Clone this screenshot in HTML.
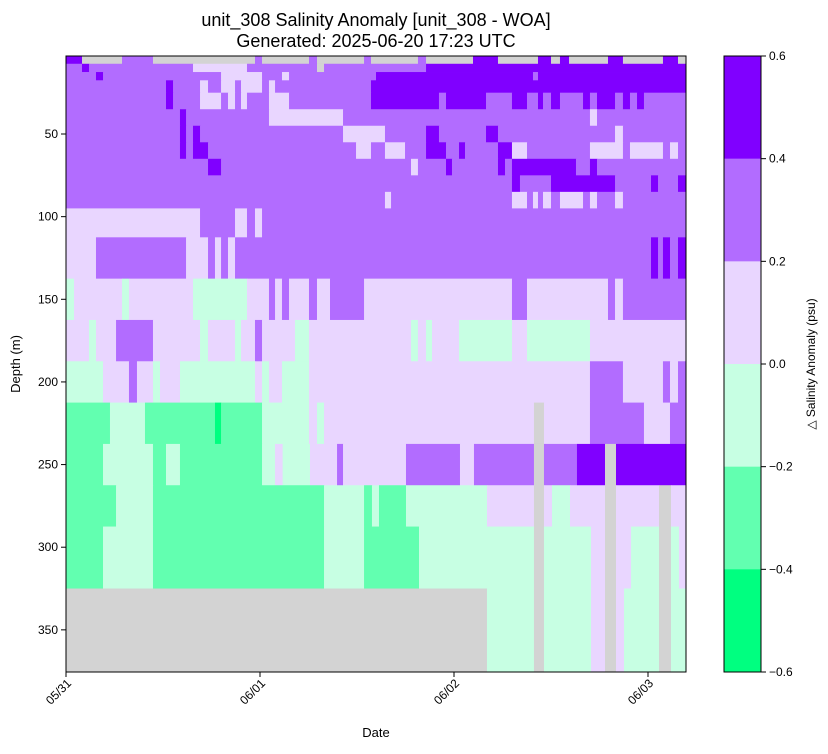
<!DOCTYPE html>
<html><head><meta charset="utf-8">
<style>
body{margin:0;background:#fff;font-family:"Liberation Sans",sans-serif;}
svg text{font-family:"Liberation Sans",sans-serif;fill:#000;}
</style></head>
<body>
<svg id="chart" width="828" height="749">
<text x="376" y="26" font-size="18" text-anchor="middle">unit_308 Salinity Anomaly [unit_308 - WOA]</text>
<text x="376" y="47" font-size="18" text-anchor="middle">Generated: 2025-06-20 17:23 UTC</text>
<g id="cells"></g>
<rect x="66" y="56" width="620" height="616" fill="none" stroke="#000" stroke-width="1"/>
<g id="axes"></g>
<text x="0" y="0" font-size="13" text-anchor="middle" transform="translate(20,364) rotate(-90)">Depth (m)</text>
<text x="376" y="737" font-size="13" text-anchor="middle">Date</text>
<g id="cbar"></g>
<text x="0" y="0" font-size="12" text-anchor="middle" transform="translate(815,364) rotate(-90)">△ Salinity Anomaly (psu)</text>
</svg>
<script>
// depth bin edges (m)
const depthEdges = [2.5,7.5,12.5,17.5,25,35,45,55,65,75,85,95,112.5,137.5,162.5,187.5,212.5,237.5,262.5,287.5,325,375.5];
// code -> anomaly value (psu), G = no data
const codeValues = {f:0.5, e:0.3, d:0.1, c:-0.1, b:-0.3, a:-0.5, G:null};
// each row: runs "code+endHour" (hours since 05/31 00:00)
const rows = [
"f1.98 G6.93 e10.76 G23.38 e24.25 G30.06 e31.05 G36.87 e37.73 G43.54 e44.54 G50.35 f53.44 G58.39 f60.0 G61.11 f62.23 G67.05 f68.9 G73.85 f75.71 G76.7",
"e1.98 f2.85 e15.71 d22.39 e31.05 G31.92 e44.54 f76.7",
"e3.71 f4.58 e19.18 d24.25 e26.72 d27.59 e38.35 f57.77 e58.39 f76.7",
"e12.37 f13.24 e16.58 d17.57 e19.18 d20.91 e21.65 d24.25 e25.11 d25.86 e37.73 f76.7",
"e12.37 f13.24 e16.58 d19.18 e20.04 d20.91 e21.65 d22.39 e25.11 d27.59 e37.73 f46.14 e47.01 f51.96 e55.17 f57.03 e58.39 f59.01 e60.0 f61.11 e63.96 f64.82 e65.69 f67.92 e68.9 f69.77 e70.64 f71.5 e76.7",
"e14.10 f14.85 e25.11 d34.27 e64.82 d65.69 e76.7",
"e14.10 f14.85 e15.71 f16.58 e34.27 d39.46 e44.54 f46.14 e51.96 f53.44 e67.92 d68.9 e76.7",
"e14.10 f14.85 e15.71 f17.57 e35.88 d37.73 e39.46 d41.94 e44.54 f47.01 e48.62 f49.36 e53.44 f55.17 d57.03 e64.82 d68.9 e69.77 d73.85 e74.72 d75.71 e76.7",
"e17.57 f19.18 e42.68 d43.54 e47.01 f47.75 e53.44 f54.31 e55.17 f63.09 e64.82 f65.69 e76.7",
"e55.17 f56.16 e60.0 f67.92 e72.37 f73.24 e75.71 f76.7",
"e39.46 d40.21 e55.17 d57.03 e57.77 d58.39 e59.01 d60.0 e61.11 d63.96 e64.82 d65.69 e67.92 d68.9 e76.7",
"d16.58 e20.91 d22.39 e23.38 d24.25 e76.7",
"d3.71 e14.85 d17.57 e18.43 d19.18 e20.04 d20.91 e72.37 f73.24 e73.85 f74.72 e75.71 f76.7",
"c0.99 d6.93 c7.79 d15.71 c22.39 d25.11 e25.86 d26.72 e27.59 d30.06 e31.05 d32.66 e36.87 d55.17 e57.03 d67.05 e67.92 d68.9 e76.7",
"d2.85 c3.71 d6.19 e10.76 d16.58 c17.57 d20.91 c21.65 d23.38 e24.25 d28.33 c30.06 d42.68 c43.54 d44.54 c45.28 d48.62 c55.17 d57.03 c64.82 d76.7",
"c4.58 d7.79 e8.78 d10.76 c11.63 d14.10 c23.38 d24.25 c25.11 d26.72 c30.06 d64.82 e68.9 d73.85 e74.72 d75.71 e76.7",
"b5.44 c9.77 b18.43 a19.18 b24.25 c30.06 d31.05 c31.92 d57.89 G59.13 d64.82 e71.5 d74.72 e76.7",
"b4.58 c10.76 b12.37 c14.10 b24.25 c25.86 d26.8 c30.18 d33.53 e34.27 d42.06 e48.74 d50.47 e57.89 G59.13 e63.21 f66.68 G68.04 f76.7",
"b6.19 c10.76 b31.92 c36.87 b37.85 c38.72 b42.06 c52.08 d57.89 G59.13 d60.12 c62.35 d66.68 G68.04 d73.36 G74.84 d76.7",
"b4.58 c10.76 b31.92 c36.87 b43.67 c57.89 G59.13 c64.95 d66.68 G68.04 d69.9 c73.36 G74.84 c75.83 d76.7",
"G52.08 c57.89 G59.13 c64.95 d66.68 G68.04 d69.03 c73.36 G74.84 c76.7"
];
const xTickHours = [0,24,48,72];
const xTickLabels = ["05/31","06/01","06/02","06/03"];
const yTicks = [50,100,150,200,250,300,350];
const cbarLevels = [0.6,0.4,0.2,0.0,-0.2,-0.4,-0.6];
const cbarLabels = ["0.6","0.4","0.2","0.0","\u22120.2","\u22120.4","\u22120.6"];
const binColors = ["#8000ff","#b26cff","#e9d6ff","#c7ffe3","#62ffb0","#00ff80"];

const X0=66,X1=686,Y0=56,Y1=672,HMAX=76.7,DMIN=2.8,DMAX=375.5;
const xs = h => X0 + h/HMAX*(X1-X0);
const ys = d => Y0 + (d-DMIN)/(DMAX-DMIN)*(Y1-Y0);
function color(v){
  if(v===null) return "#d3d3d3";
  for(let i=0;i<6;i++){ if(v>=cbarLevels[i+1]) return binColors[i]; }
  return binColors[5];
}
const NS="http://www.w3.org/2000/svg";
const cells=document.getElementById('cells');
rows.forEach((row,ri)=>{
  let start=0;
  row.split(" ").forEach((tok,ci)=>{
    const code=tok[0], end=parseFloat(tok.slice(1));
    const v=codeValues[code];
    const y0=Math.max(Y0,ys(depthEdges[ri])), y1=Math.min(Y1,ys(depthEdges[ri+1]));
    const r=document.createElementNS(NS,'rect');
    r.setAttribute('x',xs(start));
    r.setAttribute('width',Math.max(0,xs(end)-xs(start))+0.4);
    r.setAttribute('y',y0);
    r.setAttribute('height',Math.max(0,y1-y0)+0.4);
    r.setAttribute('fill',color(v));
    
    
    cells.appendChild(r);
    start=end;
  });
});
const axes=document.getElementById('axes');
xTickHours.forEach((h,i)=>{
  const x=xs(h);
  const l=document.createElementNS(NS,'line');
  l.setAttribute('x1',x);l.setAttribute('x2',x);l.setAttribute('y1',672);l.setAttribute('y2',677);l.setAttribute('stroke','#000');
  
  
  axes.appendChild(l);
  const t=document.createElementNS(NS,'text');
  t.setAttribute('font-size','12');t.setAttribute('text-anchor','end');
  t.setAttribute('transform',`translate(${x+6},${684}) rotate(-45)`);
  t.textContent=xTickLabels[i];
  
  
  axes.appendChild(t);
});
yTicks.forEach(d=>{
  const y=ys(d);
  const l=document.createElementNS(NS,'line');
  l.setAttribute('x1',61);l.setAttribute('x2',66);l.setAttribute('y1',y);l.setAttribute('y2',y);l.setAttribute('stroke','#000');
  
  
  axes.appendChild(l);
  const t=document.createElementNS(NS,'text');
  t.setAttribute('x',58);t.setAttribute('y',y+4);t.setAttribute('font-size','12');t.setAttribute('text-anchor','end');
  t.textContent=d;
  
  
  axes.appendChild(t);
});
const cb=document.getElementById('cbar');
const CX=724,CW=37;
const cy = v => Y0 + (0.6-v)/1.2*(Y1-Y0);
binColors.forEach((c,i)=>{
  const r=document.createElementNS(NS,'rect');
  r.setAttribute('x',CX);r.setAttribute('width',CW);
  r.setAttribute('y',cy(cbarLevels[i]));r.setAttribute('height',cy(cbarLevels[i+1])-cy(cbarLevels[i])+0.3);
  r.setAttribute('fill',c);
  
  
  cb.appendChild(r);
});
cbarLevels.forEach((v,i)=>{
  const y=cy(v);
  const l=document.createElementNS(NS,'line');
  l.setAttribute('x1',CX+CW);l.setAttribute('x2',CX+CW+5);l.setAttribute('y1',y);l.setAttribute('y2',y);l.setAttribute('stroke','#000');
  
  
  cb.appendChild(l);
  const t=document.createElementNS(NS,'text');
  t.setAttribute('x',CX+CW+8);t.setAttribute('y',y+4);t.setAttribute('font-size','12');
  t.textContent=cbarLabels[i];
  
  
  cb.appendChild(t);
});
const fr=document.createElementNS(NS,'rect');
fr.setAttribute('x',CX);fr.setAttribute('y',Y0);fr.setAttribute('width',CW);fr.setAttribute('height',Y1-Y0);
fr.setAttribute('fill','none');fr.setAttribute('stroke','#000');


cb.appendChild(fr);
</script>
</body></html>
